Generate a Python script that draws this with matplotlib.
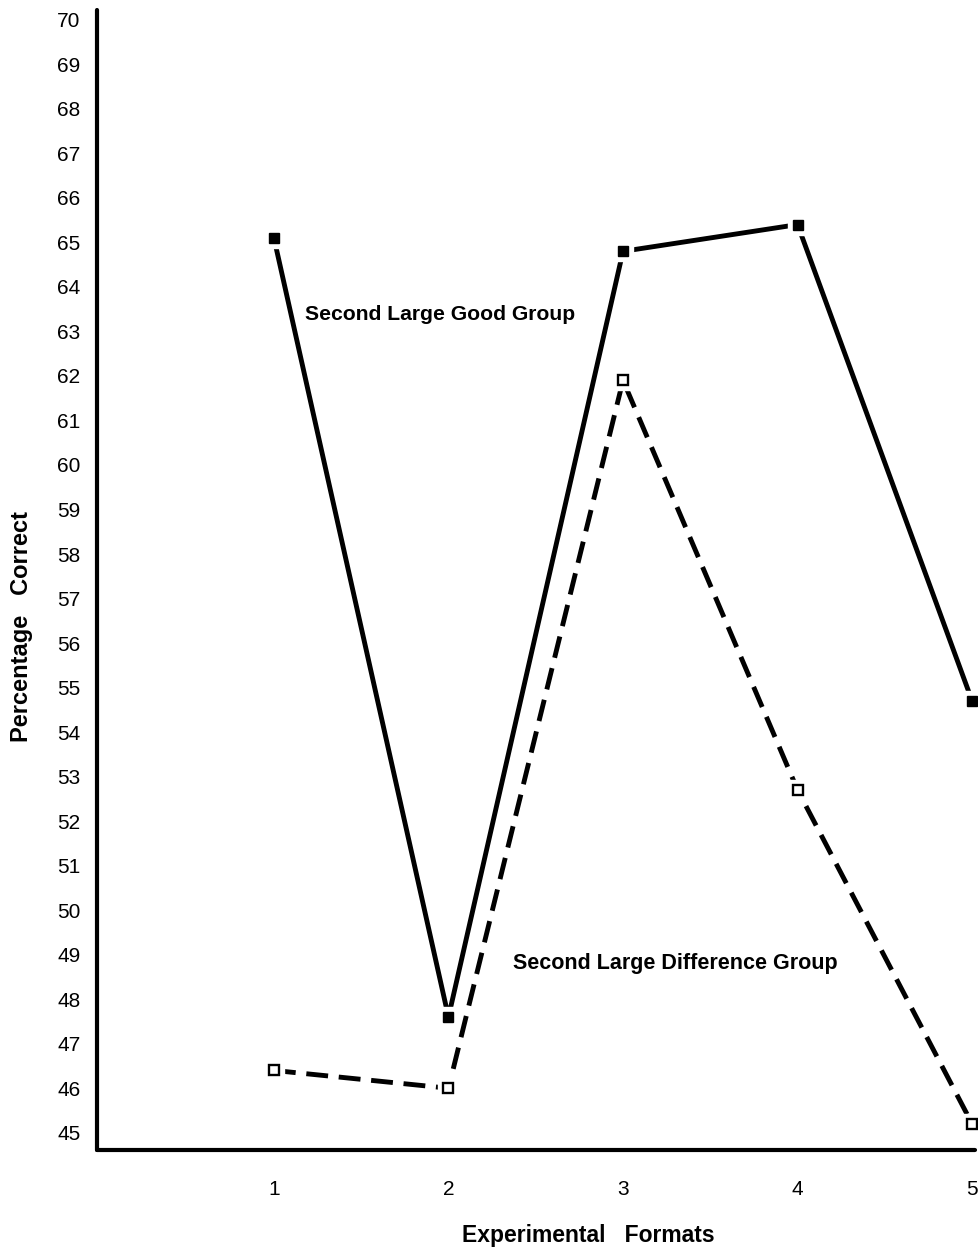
import matplotlib.pyplot as plt

# experimental formats and percentage correct
formats = [1, 2, 3, 4, 5]
good_group = [65.1, 47.6, 64.8, 65.4, 54.7]
diff_group = [46.4, 46.0, 61.9, 52.7, 45.2]
y_ticks = list(range(45, 71))

plt.rcParams['font.family'] = ['Liberation Sans', 'DejaVu Sans']

fig = plt.figure(figsize=(9.79, 12.51), dpi=100)
ax = fig.add_axes([0.099, 0.081, 0.897, 0.911])

# solid line, filled squares
ax.plot(formats, good_group, color='black', lw=3.5, solid_capstyle='round', zorder=2, clip_on=False)
ax.plot(formats, good_group, ls='none', marker='s', ms=14, mfc='white', mec='white', zorder=3, clip_on=False)
ax.plot(formats, good_group, ls='none', marker='s', ms=7.5, mfc='black', mec='black', zorder=4, clip_on=False)

# dashed line, open squares
ax.plot(formats, diff_group, color='black', lw=3.5, dashes=(4.5, 2.2), zorder=2, clip_on=False)
ax.plot(formats, diff_group, ls='none', marker='s', ms=14, mfc='white', mec='white', zorder=3, clip_on=False)
ax.plot(formats, diff_group, ls='none', marker='s', ms=7.5, mfc='white', mec='black', mew=1.7, zorder=4, clip_on=False)

ax.text(1.18, 63.37, 'Second Large Good Group', fontsize=15.2, fontweight='bold', va='center', ha='left')
ax.text(2.37, 48.8, 'Second Large Difference Group', fontsize=15.5, fontweight='bold', va='center', ha='left')

ax.set_xlim(-0.014, 5.017)
ax.set_ylim(44.62, 70.22)
ax.set_xticks(formats)
ax.set_xticklabels([str(f) for f in formats])
ax.set_yticks(y_ticks)
ax.set_yticklabels([str(v) for v in y_ticks])
ax.tick_params(axis='both', length=0, labelsize=15)
ax.tick_params(axis='y', pad=12)
ax.tick_params(axis='x', pad=22)

for s in ['top', 'right']:
    ax.spines[s].set_visible(False)
for s in ['left', 'bottom']:
    ax.spines[s].set_linewidth(3)
    ax.spines[s].set_capstyle('round')

ax.set_ylabel('Percentage   Correct', fontsize=17, fontweight='bold')
ax.set_xlabel('Experimental   Formats', fontsize=16.5, fontweight='bold')
ax.xaxis.set_label_coords(0.559, -0.0655)
ax.yaxis.set_label_coords(-0.073, 0.459)

plt.savefig('out.png', dpi=100)
